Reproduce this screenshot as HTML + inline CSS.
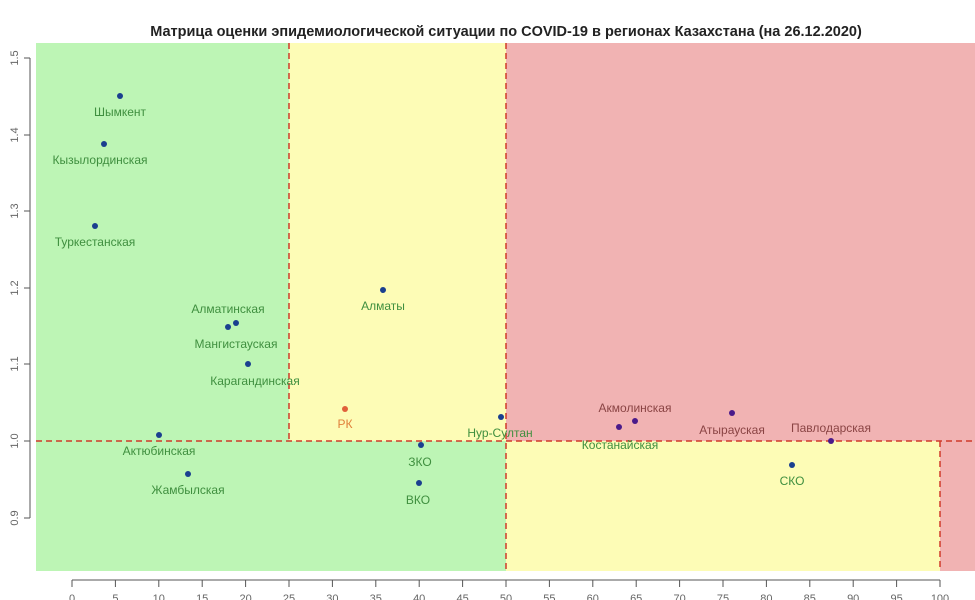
<!DOCTYPE html>
<html><head><meta charset="utf-8"><style>
body{margin:0;background:#fff}
svg{display:block;font-family:"Liberation Sans",sans-serif}
.g{fill:#3f8f3f;font-size:12px;text-anchor:middle}
.r{fill:#8a4444;font-size:12px;text-anchor:middle}
.t{fill:#666;font-size:11px;text-anchor:middle}
</style></head><body>
<svg width="975" height="600" viewBox="0 0 975 600" xmlns="http://www.w3.org/2000/svg">
<rect width="975" height="600" fill="#fff"/>
<text x="506" y="36" text-anchor="middle" font-size="14.5" font-weight="bold" fill="#222">Матрица оценки эпидемиологической ситуации по COVID-19 в регионах Казахстана (на 26.12.2020)</text>
<rect x="36" y="43" width="253" height="398" fill="#bdf5b5"/>
<rect x="36" y="441" width="470" height="130" fill="#bdf5b5"/>
<rect x="289" y="43" width="217" height="398" fill="#fdfcb6"/>
<rect x="506" y="441" width="434" height="130" fill="#fdfcb6"/>
<rect x="506" y="43" width="469" height="398" fill="#f1b3b3"/>
<rect x="940" y="441" width="35" height="130" fill="#f1b3b3"/>
<g stroke="#d03a2a" stroke-width="1.5" stroke-dasharray="6,4" fill="none">
<line x1="289" y1="43" x2="289" y2="441"/>
<line x1="506" y1="43" x2="506" y2="571"/>
<line x1="940" y1="441" x2="940" y2="571"/>
<line x1="36" y1="441" x2="975" y2="441"/>
</g>
<g stroke="#555" stroke-width="1">
<line x1="30" y1="58" x2="30" y2="518"/>
<line x1="24" y1="58" x2="30" y2="58"/><line x1="24" y1="135" x2="30" y2="135"/><line x1="24" y1="211" x2="30" y2="211"/><line x1="24" y1="288" x2="30" y2="288"/><line x1="24" y1="364" x2="30" y2="364"/><line x1="24" y1="441" x2="30" y2="441"/><line x1="24" y1="518" x2="30" y2="518"/>
<line x1="72" y1="580" x2="940" y2="580"/>
</g>
<g fill="#666" font-size="11">
<text transform="translate(18,58) rotate(-90)" text-anchor="middle">1.5</text>
<text transform="translate(18,135) rotate(-90)" text-anchor="middle">1.4</text>
<text transform="translate(18,211) rotate(-90)" text-anchor="middle">1.3</text>
<text transform="translate(18,288) rotate(-90)" text-anchor="middle">1.2</text>
<text transform="translate(18,364) rotate(-90)" text-anchor="middle">1.1</text>
<text transform="translate(18,441) rotate(-90)" text-anchor="middle">1.0</text>
<text transform="translate(18,518) rotate(-90)" text-anchor="middle">0.9</text>
</g>
<g stroke="#555">
<line x1="72" y1="580" x2="72" y2="587"/><line x1="115.4" y1="580" x2="115.4" y2="587"/><line x1="158.8" y1="580" x2="158.8" y2="587"/><line x1="202.2" y1="580" x2="202.2" y2="587"/><line x1="245.6" y1="580" x2="245.6" y2="587"/><line x1="289" y1="580" x2="289" y2="587"/><line x1="332.4" y1="580" x2="332.4" y2="587"/><line x1="375.8" y1="580" x2="375.8" y2="587"/><line x1="419.2" y1="580" x2="419.2" y2="587"/><line x1="462.6" y1="580" x2="462.6" y2="587"/><line x1="506" y1="580" x2="506" y2="587"/><line x1="549.4" y1="580" x2="549.4" y2="587"/><line x1="592.8" y1="580" x2="592.8" y2="587"/><line x1="636.2" y1="580" x2="636.2" y2="587"/><line x1="679.6" y1="580" x2="679.6" y2="587"/><line x1="723" y1="580" x2="723" y2="587"/><line x1="766.4" y1="580" x2="766.4" y2="587"/><line x1="809.8" y1="580" x2="809.8" y2="587"/><line x1="853.2" y1="580" x2="853.2" y2="587"/><line x1="896.6" y1="580" x2="896.6" y2="587"/><line x1="940" y1="580" x2="940" y2="587"/>
</g>
<g>
<text class="t" x="72" y="602">0</text><text class="t" x="115.4" y="602">5</text><text class="t" x="158.8" y="602">10</text><text class="t" x="202.2" y="602">15</text><text class="t" x="245.6" y="602">20</text><text class="t" x="289" y="602">25</text><text class="t" x="332.4" y="602">30</text><text class="t" x="375.8" y="602">35</text><text class="t" x="419.2" y="602">40</text><text class="t" x="462.6" y="602">45</text><text class="t" x="506" y="602">50</text><text class="t" x="549.4" y="602">55</text><text class="t" x="592.8" y="602">60</text><text class="t" x="636.2" y="602">65</text><text class="t" x="679.6" y="602">70</text><text class="t" x="723" y="602">75</text><text class="t" x="766.4" y="602">80</text><text class="t" x="809.8" y="602">85</text><text class="t" x="853.2" y="602">90</text><text class="t" x="896.6" y="602">95</text><text class="t" x="940" y="602">100</text>
</g>
<g fill="#1a3f8f">
<circle cx="120" cy="96" r="3"/><circle cx="104" cy="144" r="3"/><circle cx="95" cy="226" r="3"/><circle cx="383" cy="290" r="3"/><circle cx="236" cy="323" r="3"/><circle cx="228" cy="327" r="3"/><circle cx="248" cy="364" r="3"/><circle cx="501" cy="417" r="3"/><circle cx="159" cy="435" r="3"/><circle cx="421" cy="445" r="3"/><circle cx="188" cy="474" r="3"/><circle cx="419" cy="483" r="3"/><circle cx="792" cy="465" r="3"/>
</g>
<g fill="#4a1a8a">
<circle cx="635" cy="421" r="3"/><circle cx="619" cy="427" r="3"/><circle cx="732" cy="413" r="3"/><circle cx="831" cy="441" r="3"/>
</g>
<circle cx="345" cy="409" r="3" fill="#e0603a"/>
<text x="345" y="428" font-size="12" text-anchor="middle" fill="#e0803a">РК</text>
<text class="g" x="120" y="116">Шымкент</text>
<text class="g" x="100" y="164">Кызылординская</text>
<text class="g" x="95" y="246">Туркестанская</text>
<text class="g" x="383" y="310">Алматы</text>
<text class="g" x="228" y="313">Алматинская</text>
<text class="g" x="236" y="348">Мангистауская</text>
<text class="g" x="255" y="385">Карагандинская</text>
<text class="g" x="500" y="437">Нур-Султан</text>
<text class="g" x="159" y="455">Актюбинская</text>
<text class="g" x="420" y="466">ЗКО</text>
<text class="g" x="188" y="494">Жамбылская</text>
<text class="g" x="418" y="504">ВКО</text>
<text class="g" x="792" y="485">СКО</text>
<text class="r" x="635" y="412">Акмолинская</text>
<text class="g" x="620" y="449">Костанайская</text>
<text class="r" x="732" y="434">Атырауская</text>
<text class="r" x="831" y="432">Павлодарская</text>
</svg>
</body></html>
